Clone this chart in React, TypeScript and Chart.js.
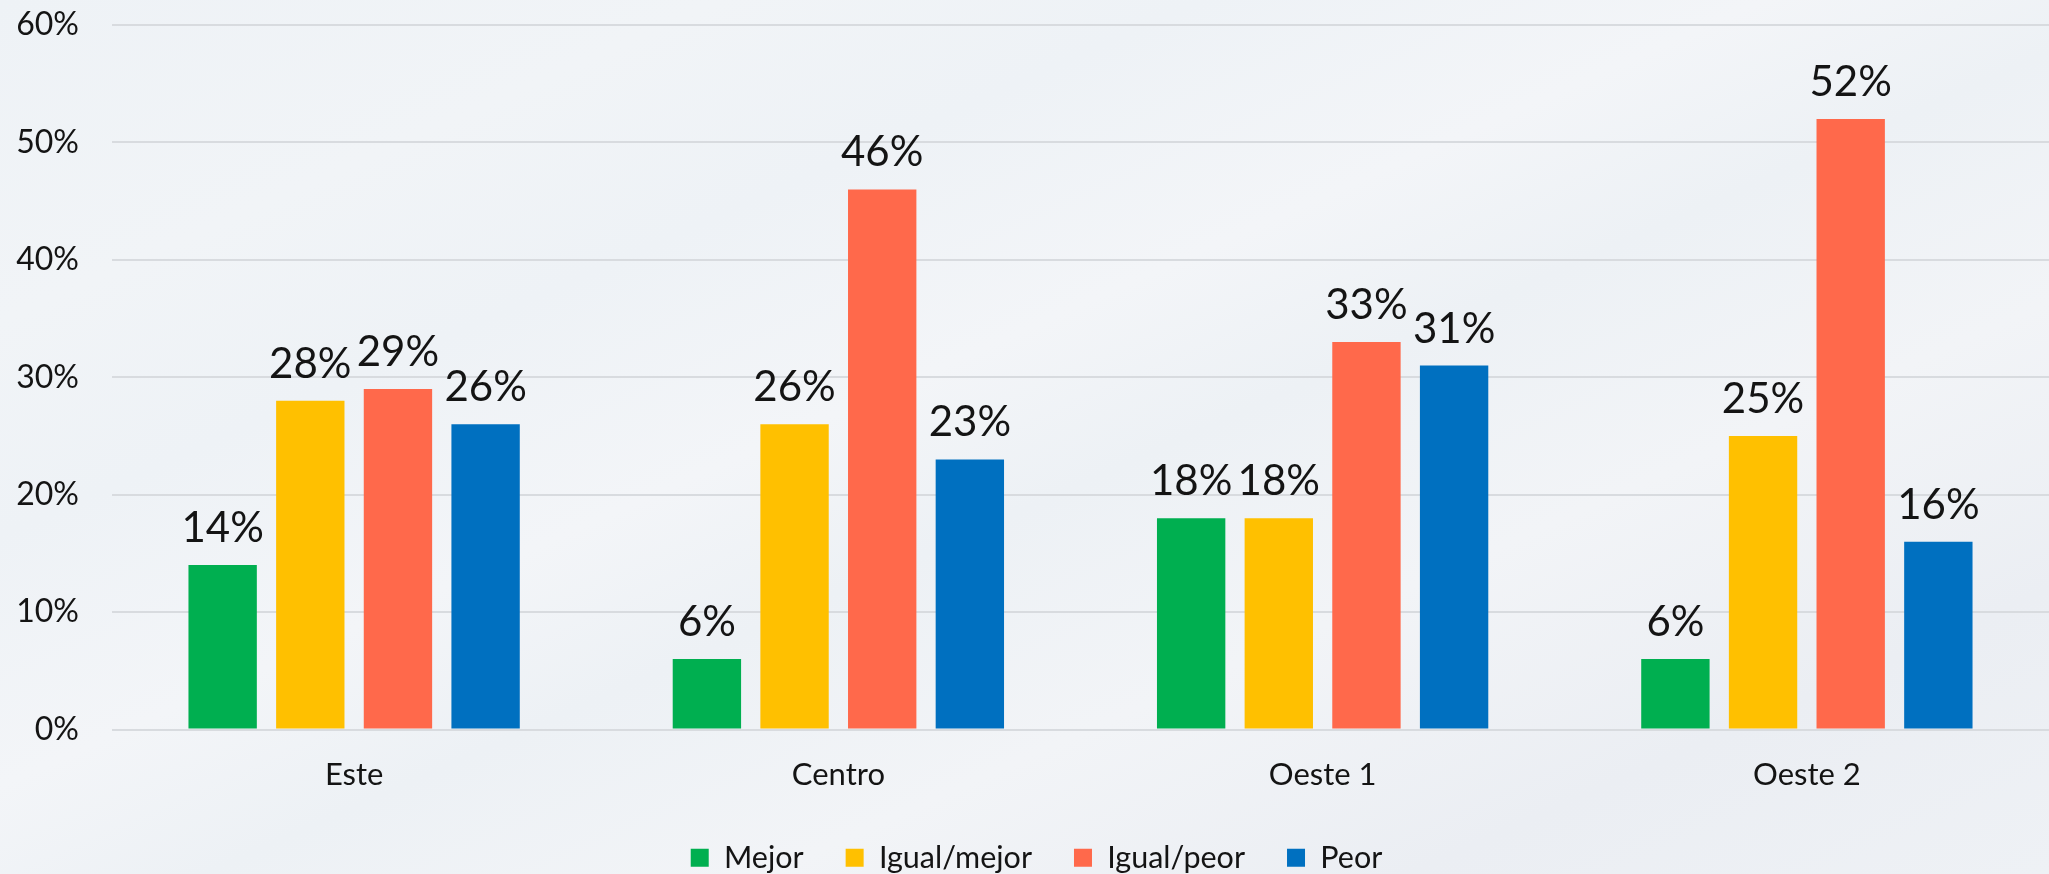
import React, { useEffect, useRef } from "react";
import { Chart, registerables } from "chart.js";

Chart.register(...registerables);

const categories = ["Este", "Centro", "Oeste 1", "Oeste 2"];
const mejor = [14, 6, 18, 6];
const igualMejor = [28, 26, 18, 25];
const igualPeor = [29, 46, 33, 52];
const peor = [26, 23, 31, 16];
const seriesNames = ["Mejor", "Igual/mejor", "Igual/peor", "Peor"];
const seriesColors = ["#00AF50", "#FFC000", "#FF694B", "#0070C0"];
const yTicks = [0, 10, 20, 30, 40, 50, 60];

const FONT = "Lato, 'Noto Sans', sans-serif";
const TEXT = "#141414";

const dataLabels = {
  id: "dataLabels",
  afterDatasetsDraw(chart: any) {
    const ctx = chart.ctx;
    ctx.save();
    ctx.font = `42px ${FONT}`;
    ctx.fillStyle = TEXT;
    ctx.textAlign = "center";
    ctx.textBaseline = "alphabetic";
    chart.data.datasets.forEach((ds: any, di: number) => {
      const meta = chart.getDatasetMeta(di);
      meta.data.forEach((el: any, i: number) => {
        ctx.fillText(`${ds.data[i]}%`, el.x, el.y - 23);
      });
    });
    ctx.restore();
  },
};

const legendShift = {
  id: "legendShift",
  afterLayout(chart: any) {
    const lg = chart.legend;
    if (lg) {
      lg.left += 12;
      lg.right += 12;
    }
  },
};

export default function App() {
  const ref = useRef<HTMLCanvasElement | null>(null);

  useEffect(() => {
    document.body.style.margin = "0";
    const canvas = ref.current;
    if (!canvas) return;
    const values = [mejor, igualMejor, igualPeor, peor];
    const chart = new Chart(canvas, {
      type: "bar",
      data: {
        labels: categories,
        datasets: values.map((v, i) => ({
          label: seriesNames[i],
          data: v,
          backgroundColor: seriesColors[i],
          borderWidth: 0,
          barPercentage: 0.78,
          categoryPercentage: 0.724,
        })),
      },
      options: {
        responsive: false,
        animation: false,
        devicePixelRatio: 1,
        layout: { padding: { top: 25, left: 0, right: 0, bottom: 0 } },
        plugins: {
          tooltip: { enabled: false },
          legend: {
            position: "bottom",
            labels: {
              boxWidth: 18,
              boxHeight: 18,
              padding: 42,
              color: TEXT,
              font: { family: FONT, size: 30.5 },
            },
          },
        },
        scales: {
          x: {
            grid: { display: false, drawTicks: false },
            border: { display: false },
            ticks: {
              color: TEXT,
              font: { family: FONT, size: 31 },
              padding: 27,
            },
            afterFit: (s: any) => {
              s.height = 71;
            },
          },
          y: {
            min: 0,
            max: 60,
            afterBuildTicks: (s: any) => {
              s.ticks = yTicks.map((v) => ({ value: v }));
            },
            grid: {
              color: "#D8DBDF",
              lineWidth: 2,
              drawTicks: true,
              tickLength: 30,
              tickColor: "rgba(0,0,0,0)",
            },
            border: { display: false },
            ticks: {
              color: TEXT,
              font: { family: FONT, size: 32 },
              padding: 3,
              callback: (v: any) => `${v}%`,
            },
            afterFit: (s: any) => {
              s.width = 112;
            },
          },
        },
      },
      plugins: [dataLabels, legendShift],
    });
    return () => chart.destroy();
  }, []);

  return (
    <div
      style={{
        position: "absolute",
        left: 0,
        top: 0,
        width: 2049,
        height: 874,
        overflow: "hidden",
        background:
          "linear-gradient(156deg, #eef2f6 0%, #f1f4f7 18%, #eef2f6 30%, #f3f5f8 44%, #edf1f5 54%, #f2f4f7 68%, #ebeef3 84%, #eef1f5 100%)",
      }}
    >
      <canvas
        ref={ref}
        width={2049}
        height={883}
        style={{ display: "block", position: "absolute", left: 0, top: 0 }}
      />
    </div>
  );
}
